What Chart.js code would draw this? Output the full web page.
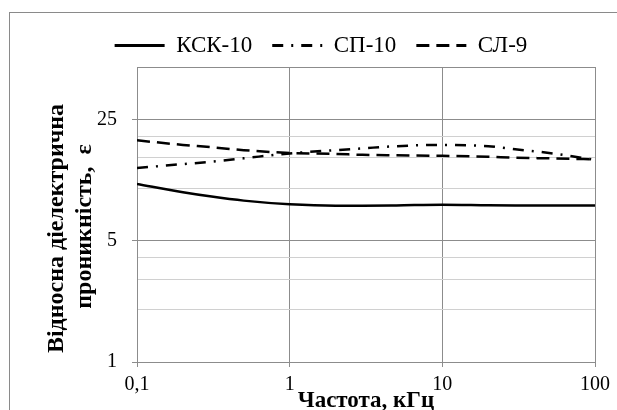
<!DOCTYPE html>
<html>
<head>
<meta charset="utf-8">
<script src="https://cdn.jsdelivr.net/npm/chart.js@4/dist/chart.umd.min.js"></script>
<style>
  html, body { margin: 0; padding: 0; background: #fff; overflow: hidden; }
  #wrap { position: relative; width: 617px; height: 410px; overflow: hidden; }
  #frame { position: absolute; left: 9px; top: 12px; width: 700px; height: 500px;
           border-left: 1px solid #8a8a8a; border-top: 1px solid #8a8a8a; }
  #chart { position: absolute; left: 0; top: 0; }
</style>
</head>
<body>
<div id="wrap">
  <div id="frame"></div>
  <canvas id="chart" width="617" height="410"></canvas>
</div>
<script>
// frequency, kHz
const freq = [0.1, 0.2, 0.3, 0.5, 1, 2, 3, 5, 10, 20, 30, 50, 100];
// relative permittivity
const ksk10 = [10.6, 9.5, 9.0, 8.5, 8.1, 7.95, 7.95, 7.98, 8.05, 8.0, 7.98, 7.97, 7.97];
const sp10 = [13.1, 13.8, 14.2, 14.9, 15.9, 16.6, 17.0, 17.5, 17.8, 17.5, 16.8, 16.0, 14.6];
const sl9 = [18.9, 17.8, 17.3, 16.6, 16.0, 15.8, 15.6, 15.5, 15.4, 15.2, 15.0, 14.9, 14.7];

const seriesNames = ['КСК-10', 'СП-10', 'СЛ-9'];

const xTicks = [0.1, 1, 10, 100];
const xTickLabels = ['0,1', '1', '10', '100'];
const yTicks = [1, 2, 3, 4, 5, 10, 15, 20, 25, 50];
const yTickLabels = ['1', '', '', '', '5', '', '', '', '25', ''];
const yMajor = [1, 5, 25, 50];

const xTitle = 'Частота, кГц';
const yTitle = ['Відносна діелектрична', 'проникність,  ε'];

const toPoints = vals => vals.map((v, i) => ({ x: freq[i], y: v }));

Chart.defaults.font.family = '"Liberation Serif", "Times New Roman", serif';

const axisTitles = {
    id: 'axisTitles',
    afterDraw(chart) {
        const ctx = chart.ctx;
        const a = chart.chartArea;
        ctx.save();
        ctx.fillStyle = '#000';
        ctx.textAlign = 'center';
        ctx.textBaseline = 'alphabetic';
        // x title
        ctx.font = 'bold 23px "Liberation Serif"';
        ctx.fillText(xTitle, (a.left + a.right) / 2, chart.height - 3);
        // y title, two lines
        ctx.font = 'bold 24px "Liberation Serif"';
        const cy = (a.top + a.bottom) / 2 + 14;
        ctx.translate(63, cy);
        ctx.rotate(-Math.PI / 2);
        ctx.fillText(yTitle[0], 0, 0);
        ctx.fillText(yTitle[1], 2, 28);
        ctx.restore();
    }
};

const gridDark = '#8c8c8c';
const gridLight = '#d0d0d0';

new Chart(document.getElementById('chart'), {
    type: 'line',
    data: {
        datasets: [{
            label: seriesNames[0],
            data: toPoints(ksk10),
            borderColor: '#000',
            borderWidth: 2.5,
            pointRadius: 0,
            cubicInterpolationMode: 'monotone'
        }, {
            label: seriesNames[1],
            data: toPoints(sp10),
            borderColor: '#000',
            borderWidth: 2.5,
            borderDash: [11, 8, 2, 8],
            pointRadius: 0,
            cubicInterpolationMode: 'monotone'
        }, {
            label: seriesNames[2],
            data: toPoints(sl9),
            borderColor: '#000',
            borderWidth: 2.5,
            borderDash: [13, 7],
            pointRadius: 0,
            cubicInterpolationMode: 'monotone'
        }]
    },
    options: {
        responsive: false,
        animation: false,
        layout: {
            padding: { left: 47, right: 22, top: 14, bottom: 0 }
        },
        scales: {
            x: {
                type: 'logarithmic',
                min: 0.1,
                max: 100,
                afterBuildTicks: s => { s.ticks = xTicks.map(v => ({ value: v })); },
                afterFit: s => { s.height = 48; },
                ticks: {
                    autoSkip: false,
                    maxRotation: 0,
                    padding: 6,
                    color: '#000',
                    font: { size: 20 },
                    callback: (v, i) => xTickLabels[i]
                },
                grid: { color: gridDark, tickColor: gridDark, tickLength: 5 },
                border: { color: gridDark }
            },
            y: {
                type: 'logarithmic',
                min: 1,
                max: 50,
                afterBuildTicks: s => { s.ticks = yTicks.map(v => ({ value: v })); },
                afterFit: s => { s.width = 90; },
                ticks: {
                    autoSkip: false,
                    padding: 15,
                    color: '#000',
                    font: { size: 20 },
                    callback: (v, i) => yTickLabels[i]
                },
                grid: {
                    color: c => yMajor.includes(c.tick.value) ? gridDark : gridLight,
                    tickColor: c => yTickLabels[c.index] ? gridDark : 'rgba(0,0,0,0)',
                    tickLength: 5
                },
                border: { color: gridDark }
            }
        },
        plugins: {
            legend: {
                position: 'top',
                labels: {
                    usePointStyle: true,
                    pointStyle: 'line',
                    pointStyleWidth: 50,
                    padding: 20,
                    color: '#000',
                    font: { size: 23 },
                    generateLabels: chart => Chart.defaults.plugins.legend.labels.generateLabels(chart).map(item => {
                        const ds = chart.data.datasets[item.datasetIndex];
                        item.lineDash = ds.borderDash || [];
                        item.lineWidth = 3;
                        item.strokeStyle = '#000';
                        return item;
                    })
                }
            },
            tooltip: { enabled: false }
        }
    },
    plugins: [axisTitles]
});
</script>
</body>
</html>
